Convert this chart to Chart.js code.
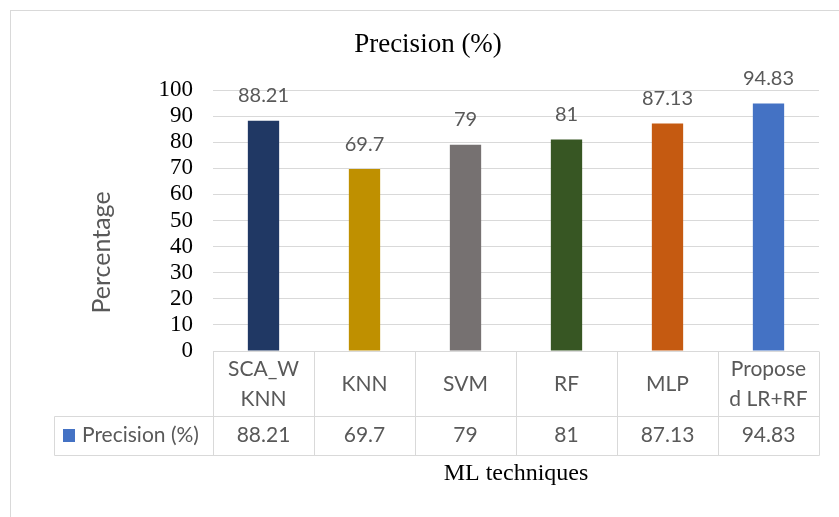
<!DOCTYPE html>
<html>
<head>
<meta charset="utf-8">
<script src="https://cdn.jsdelivr.net/npm/chart.js@4.4.1/dist/chart.umd.min.js"></script>
<style>
  html, body { margin: 0; padding: 0; background: #ffffff; }
  #wrap { width: 839px; height: 517px; position: relative; }
</style>
</head>
<body>
<div id="wrap"><canvas id="chart" width="839" height="517"></canvas></div>
<script>
// Category names as they wrap inside the data-table header cells
const categories = [["SCA_W", "KNN"], ["KNN"], ["SVM"], ["RF"], ["MLP"], ["Propose", "d LR+RF"]];
// Precision (%) for each technique
const precision = [88.21, 69.7, 79, 81, 87.13, 94.83];
const valueLabels = ["88.21", "69.7", "79", "81", "87.13", "94.83"];
const seriesName = "Precision (%)";
const barColors = ["#203864", "#BF9000", "#767171", "#375623", "#C55A11", "#4472C4"];
const yTickValues = [0, 10, 20, 30, 40, 50, 60, 70, 80, 90, 100];

const chartTitle = "Precision (%)";
const yAxisTitle = "Percentage";
const xAxisTitle = "ML techniques";

const LINE = "#D9D9D9";
const LABEL_GRAY = "#595959";
const SANS = "Lato, 'Open Sans', sans-serif";
const SERIF = "'Liberation Serif', 'Times New Roman', serif";

// Draws the frame, title, value labels, axis titles and the data table under the plot
const decorations = {
  id: "decorations",
  afterDraw(chart) {
    const ctx = chart.ctx;
    const area = chart.chartArea;
    const xs = chart.scales.x;
    const meta = chart.getDatasetMeta(0);
    const n = categories.length;
    const colW = (xs.getPixelForValue(1) - xs.getPixelForValue(0));
    const px = v => Math.round(v) + 0.5;

    ctx.save();

    // outer frame
    ctx.strokeStyle = LINE;
    ctx.lineWidth = 1;
    ctx.strokeRect(10.5, 10.5, 900, 900);

    // chart title
    ctx.fillStyle = "#000000";
    ctx.font = "27px " + SERIF;
    ctx.textAlign = "center";
    ctx.textBaseline = "middle";
    ctx.fillText(chartTitle, 428, 45);

    // value labels above bars
    ctx.fillStyle = LABEL_GRAY;
    ctx.font = "20px " + SANS;
    meta.data.forEach((bar, i) => {
      ctx.fillText(valueLabels[i], bar.x, bar.y - 25);
    });

    // data table
    const top = area.bottom;
    const rowSplit = top + 65;
    const bottom = top + 104;
    const legendLeft = 54;
    ctx.strokeStyle = LINE;
    ctx.beginPath();
    for (let i = 0; i <= n; i++) {
      const x = px(area.left + i * colW);
      ctx.moveTo(x, px(top));
      ctx.lineTo(x, px(bottom));
    }
    ctx.moveTo(px(legendLeft), px(rowSplit));
    ctx.lineTo(px(area.right), px(rowSplit));
    ctx.moveTo(px(legendLeft), px(bottom));
    ctx.lineTo(px(area.right), px(bottom));
    ctx.moveTo(px(legendLeft), px(rowSplit));
    ctx.lineTo(px(legendLeft), px(bottom));
    ctx.stroke();

    ctx.font = "21px " + SANS;
    ctx.fillStyle = LABEL_GRAY;
    const headMid = (top + rowSplit) / 2 + 1;
    const valMid = (rowSplit + bottom) / 2;
    categories.forEach((lines, i) => {
      const cx = xs.getPixelForValue(i);
      const lh = 30;
      lines.forEach((t, k) => {
        ctx.fillText(t, cx, headMid + (k - (lines.length - 1) / 2) * lh);
      });
      ctx.fillText(valueLabels[i], cx, valMid);
    });

    // legend key in the table
    ctx.fillStyle = barColors[5];
    ctx.fillRect(63, Math.round(valMid) - 7, 12, 13);
    ctx.fillStyle = LABEL_GRAY;
    ctx.textAlign = "left";
    ctx.fillText(seriesName, 82, valMid);

    // axis titles
    ctx.fillStyle = "#000000";
    ctx.textAlign = "center";
    ctx.font = "24px " + SERIF;
    ctx.fillText(xAxisTitle, (area.left + area.right) / 2, 473.5);

    ctx.save();
    ctx.translate(101.5, 252.5);
    ctx.rotate(-Math.PI / 2);
    ctx.fillStyle = LABEL_GRAY;
    ctx.font = "25px " + SANS;
    ctx.fillText(yAxisTitle, 0, 0);
    ctx.restore();

    ctx.restore();
  }
};

new Chart(document.getElementById("chart"), {
  type: "bar",
  data: {
    labels: categories.map(c => c.join("")),
    datasets: [{
      label: seriesName,
      data: precision,
      backgroundColor: barColors,
      borderWidth: 0,
      categoryPercentage: 1,
      barPercentage: 0.31
    }]
  },
  options: {
    responsive: false,
    animation: false,
    events: [],
    layout: { padding: { left: 0, top: 90, right: 20, bottom: 166 } },
    plugins: {
      legend: { display: false },
      title: { display: false },
      tooltip: { enabled: false }
    },
    scales: {
      x: {
        display: false
      },
      y: {
        min: 0,
        max: 100,
        afterFit(scale) { scale.width = 213; },
        afterBuildTicks(scale) { scale.ticks = yTickValues.map(v => ({ value: v })); },
        border: { display: false },
        grid: { color: LINE, lineWidth: 1, drawTicks: false },
        ticks: {
          autoSkip: false,
          padding: 20,
          color: "#000000",
          font: { family: SERIF, size: 23, lineHeight: 1 }
        }
      }
    }
  },
  plugins: [decorations]
});
</script>
</body>
</html>
